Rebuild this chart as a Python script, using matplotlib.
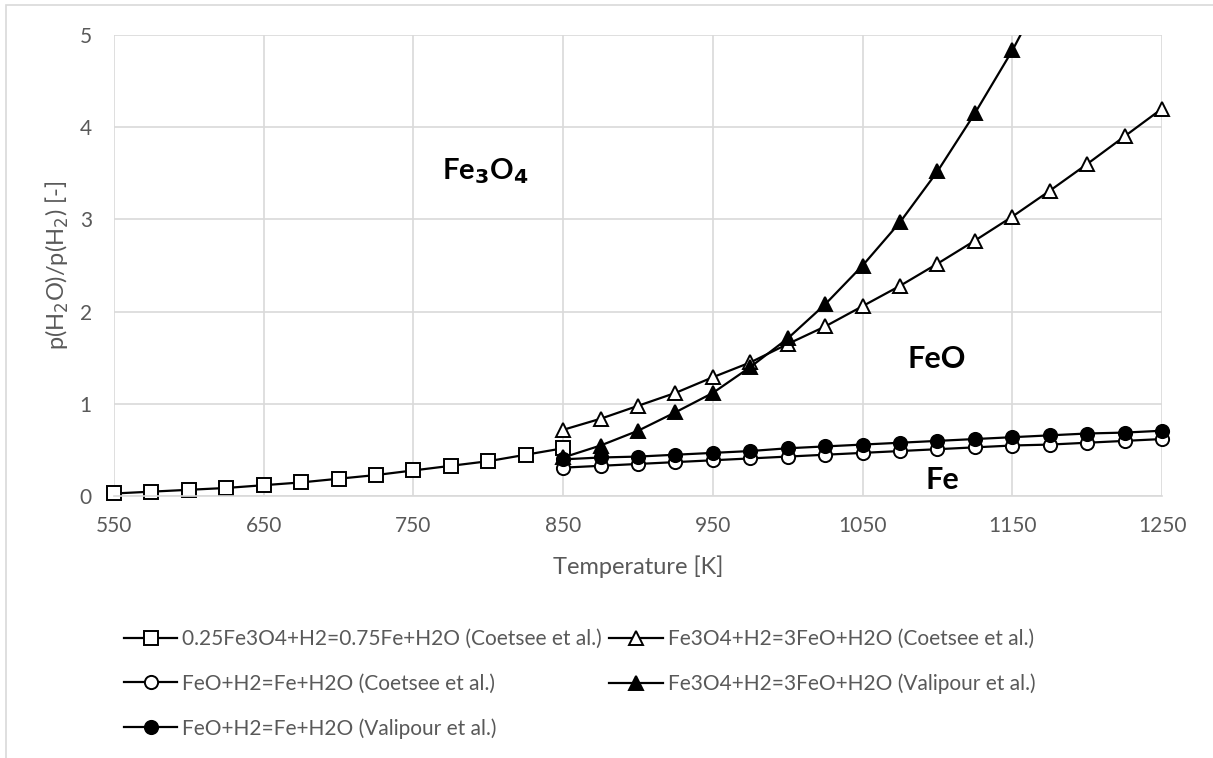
import numpy as np
import matplotlib
matplotlib.use("Agg")
import matplotlib.pyplot as plt
from matplotlib.patches import Rectangle

plt.rcParams['font.family'] = ['Lato', 'DejaVu Sans']

# temperatures (K)
T_sq = [550, 575, 600, 625, 650, 675, 700, 725, 750, 775, 800, 825, 850]
T_hi = [850, 875, 900, 925, 950, 975, 1000, 1025, 1050, 1075, 1100, 1125,
        1150, 1175, 1200, 1225, 1250]
T_val_fe3o4 = [850, 875, 900, 925, 950, 975, 1000, 1025, 1050, 1075, 1100,
               1125, 1150, 1175]

# p(H2O)/p(H2)
coet_fe3o4_fe = [0.03, 0.05, 0.07, 0.09, 0.12, 0.15, 0.19, 0.23, 0.28, 0.33,
                 0.38, 0.45, 0.52]
coet_fe3o4_feo = [0.72, 0.84, 0.98, 1.12, 1.29, 1.45, 1.65, 1.84, 2.06, 2.28,
                  2.52, 2.77, 3.03, 3.31, 3.60, 3.90, 4.20]
coet_feo_fe = [0.31, 0.33, 0.35, 0.37, 0.39, 0.41, 0.43, 0.45, 0.47, 0.49,
               0.51, 0.53, 0.55, 0.56, 0.58, 0.60, 0.62]
val_fe3o4_feo = [0.42, 0.55, 0.71, 0.91, 1.12, 1.40, 1.71, 2.08, 2.50, 2.97,
                 3.52, 4.15, 4.83, 5.60]
val_feo_fe = [0.40, 0.42, 0.43, 0.45, 0.47, 0.49, 0.52, 0.54, 0.56, 0.58,
              0.60, 0.62, 0.64, 0.66, 0.68, 0.69, 0.71]

labels = ['0.25Fe3O4+H2=0.75Fe+H2O (Coetsee et al.)',
          'Fe3O4+H2=3FeO+H2O (Coetsee et al.)',
          'FeO+H2=Fe+H2O (Coetsee et al.)',
          'Fe3O4+H2=3FeO+H2O (Valipour et al.)',
          'FeO+H2=Fe+H2O (Valipour et al.)']

grey = '#595959'
fig = plt.figure(figsize=(12.13, 7.58), dpi=100)
fig.patches.append(Rectangle((6 / 1213, -0.05), 1.1, 1.05 - 5 / 758,
                             transform=fig.transFigure, fill=False,
                             edgecolor='#d9d9d9', lw=1.2))
ax = fig.add_axes([0.094, 0.3453, 0.864, 0.6088])

kw = dict(color='black', lw=1.6, ms=9.5, mew=1.4, mec='black')
l1, = ax.plot(T_sq, coet_fe3o4_fe, marker='s', mfc='white', label=labels[0],
              clip_on=False, **kw)
l2, = ax.plot(T_hi, coet_fe3o4_feo, marker='^', mfc='white', label=labels[1],
              clip_on=False, **kw)
l3, = ax.plot(T_hi, coet_feo_fe, marker='o', mfc='white', label=labels[2],
              clip_on=False, **kw)
l4, = ax.plot(T_val_fe3o4, val_fe3o4_feo, marker='^', mfc='black', label=labels[3],
              clip_on=True, **kw)
l5, = ax.plot(T_hi, val_feo_fe, marker='o', mfc='black', label=labels[4],
              clip_on=False, **kw)

ax.set_xlim(550, 1250)
ax.set_ylim(0, 5)
ax.set_xticks(np.arange(550, 1251, 100))
ax.set_yticks(np.arange(0, 6, 1))
ax.grid(True, color='#d9d9d9', lw=1.2)
ax.set_axisbelow(True)
for s in ['top', 'right', 'left']:
    ax.spines[s].set_visible(False)
ax.spines['bottom'].set_color('#d9d9d9')
ax.spines['bottom'].set_linewidth(1.2)
ax.tick_params(length=0, labelsize=15, labelcolor=grey)
ax.tick_params(axis='x', pad=14)
ax.tick_params(axis='y', pad=16)

ax.set_xlabel('Temperature [K]', fontsize=17, color=grey, labelpad=14)
ax.set_ylabel('p(H$_2$O)/p(H$_2$) [-]', fontsize=17, color=grey, labelpad=6)

ax.text(769, 3.52, 'Fe$_\\mathbf{3}$O$_\\mathbf{4}$', fontsize=21, fontweight='bold',
        va='center', ha='left')
ax.text(1080, 1.49, 'FeO', fontsize=22, fontweight='bold', va='center', ha='left')
ax.text(1092, 0.18, 'Fe', fontsize=22, fontweight='bold', va='center', ha='left')

fig.legend([l1, l3, l5, l2, l4], [labels[0], labels[2], labels[4], labels[1], labels[3]],
           ncol=2, loc='upper left', bbox_to_anchor=(124 / 1213, 1 - 629 / 758),
           frameon=False, borderpad=0, borderaxespad=0,
           fontsize=15, labelcolor=grey, handlelength=2.55, handletextpad=0.25,
           columnspacing=0.35, labelspacing=1.18)

fig.savefig('out.png', dpi=100)
